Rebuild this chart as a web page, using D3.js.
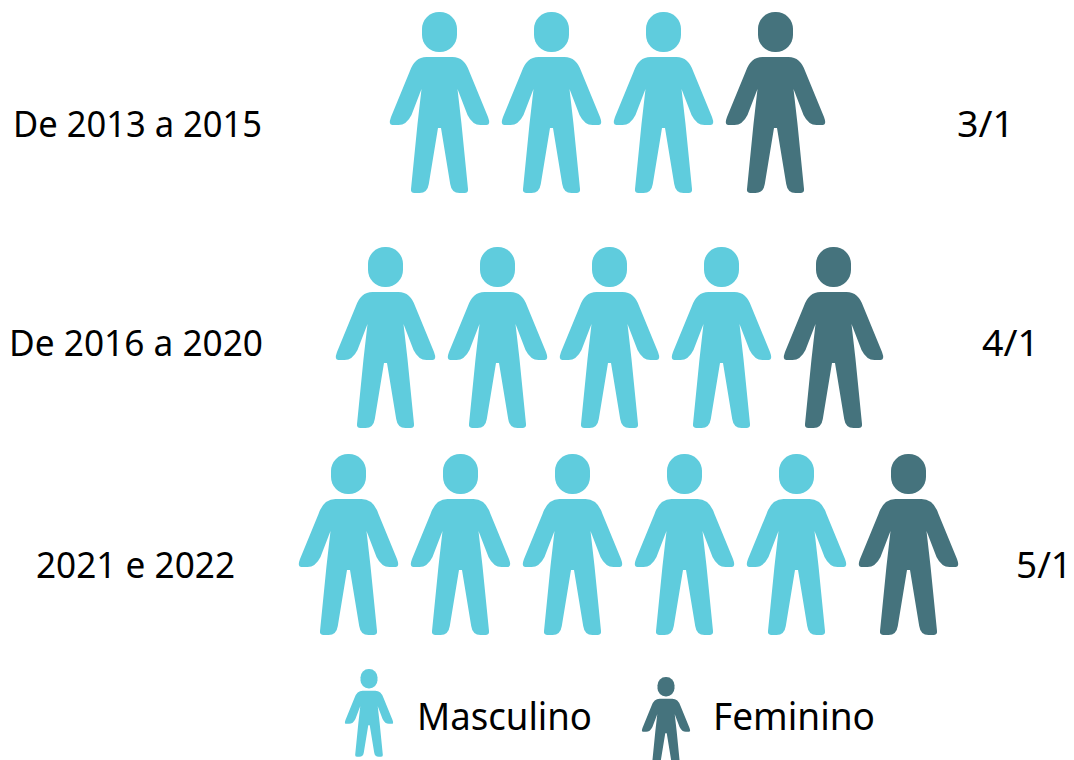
<!DOCTYPE html>
<html><head><meta charset="utf-8"><script src="https://cdn.jsdelivr.net/npm/d3@7"></script>
<style>html,body{margin:0;background:#fff}svg{display:block}text{font-family:"Noto Sans";font-weight:400;fill:#000}</style></head>
<body><svg id="c" width="1074" height="760"></svg>
<script>
const periods=["De 2013 a 2015","De 2016 a 2020","2021 e 2022"];
const maleCounts=[3,4,5];
const femaleCounts=[1,1,1];
const ratios=["3/1","4/1","5/1"];
const legendItems=["Masculino","Feminino"];
const colors={Masculino:"#5FCCDD",Feminino:"#45737D"};
// layout
const rowFirstX=[439.5,385.5,348.5], rowTop=[12,247,454];
const labelX=[13,9,36], labelW=[249,254,199], labelY=[137,356,578];
const ratioX=[957,982,1016], ratioW=[57,57,56];
const step=112;
// right half of the figure: [x,y] or [x,y,cx,cy] when the segment reaching it is curved
const side=[[0,45],[13,45],[30,60,25,45],[48.5,105],[47,113,51.5,113],[41,113],[28,103,33,113],[18,77],[22,112],[28.5,177],[25,181,29,181],[20,181],[10.7,172,12,181],[1.5,116],[0,116]];
function personPath(){
  const p=d3.path();
  p.moveTo(side[0][0],side[0][1]);
  side.slice(1).forEach(s=>s.length>2?p.quadraticCurveTo(s[2],s[3],s[0],s[1]):p.lineTo(s[0],s[1]));
  for(let i=side.length-1;i>0;i--){
    const s=side[i],t=side[i-1];
    s.length>2?p.quadraticCurveTo(-s[2],s[3],-t[0],t[1]):p.lineTo(-t[0],t[1]);
  }
  p.closePath();
  return p.toString();
}
const svg=d3.select("#c");
function person(g,cx,top,color,s){
  const n=g.append("g").attr("transform",`translate(${cx},${top}) scale(${s})`).attr("fill",color);
  n.append("rect").attr("x",-17.5).attr("y",0).attr("width",35).attr("height",40).attr("rx",17).attr("ry",17);
  n.append("path").attr("d",personPath());
}
function label(x,y,w,size,t){
  svg.append("text").attr("x",x).attr("y",y).attr("font-size",size).attr("textLength",w).attr("lengthAdjust","spacingAndGlyphs").text(t);
}
periods.forEach((p,i)=>{
  const total=maleCounts[i]+femaleCounts[i];
  const x=d3.scaleLinear().domain([0,1]).range([rowFirstX[i],rowFirstX[i]+step]);
  d3.range(total).forEach(k=>person(svg,x(k),rowTop[i],k<maleCounts[i]?colors.Masculino:colors.Feminino,1));
  label(labelX[i],labelY[i],labelW[i],36,p);
  label(ratioX[i],labelY[i],ratioW[i],36,ratios[i]);
});
const legX=[369,666], legTop=[669,677], legTextX=[417,713], legTextW=[175,162];
legendItems.forEach((t,i)=>{
  person(svg,legX[i],legTop[i],colors[t],0.485);
  label(legTextX[i],730,legTextW[i],38,t);
});
</script></body></html>
